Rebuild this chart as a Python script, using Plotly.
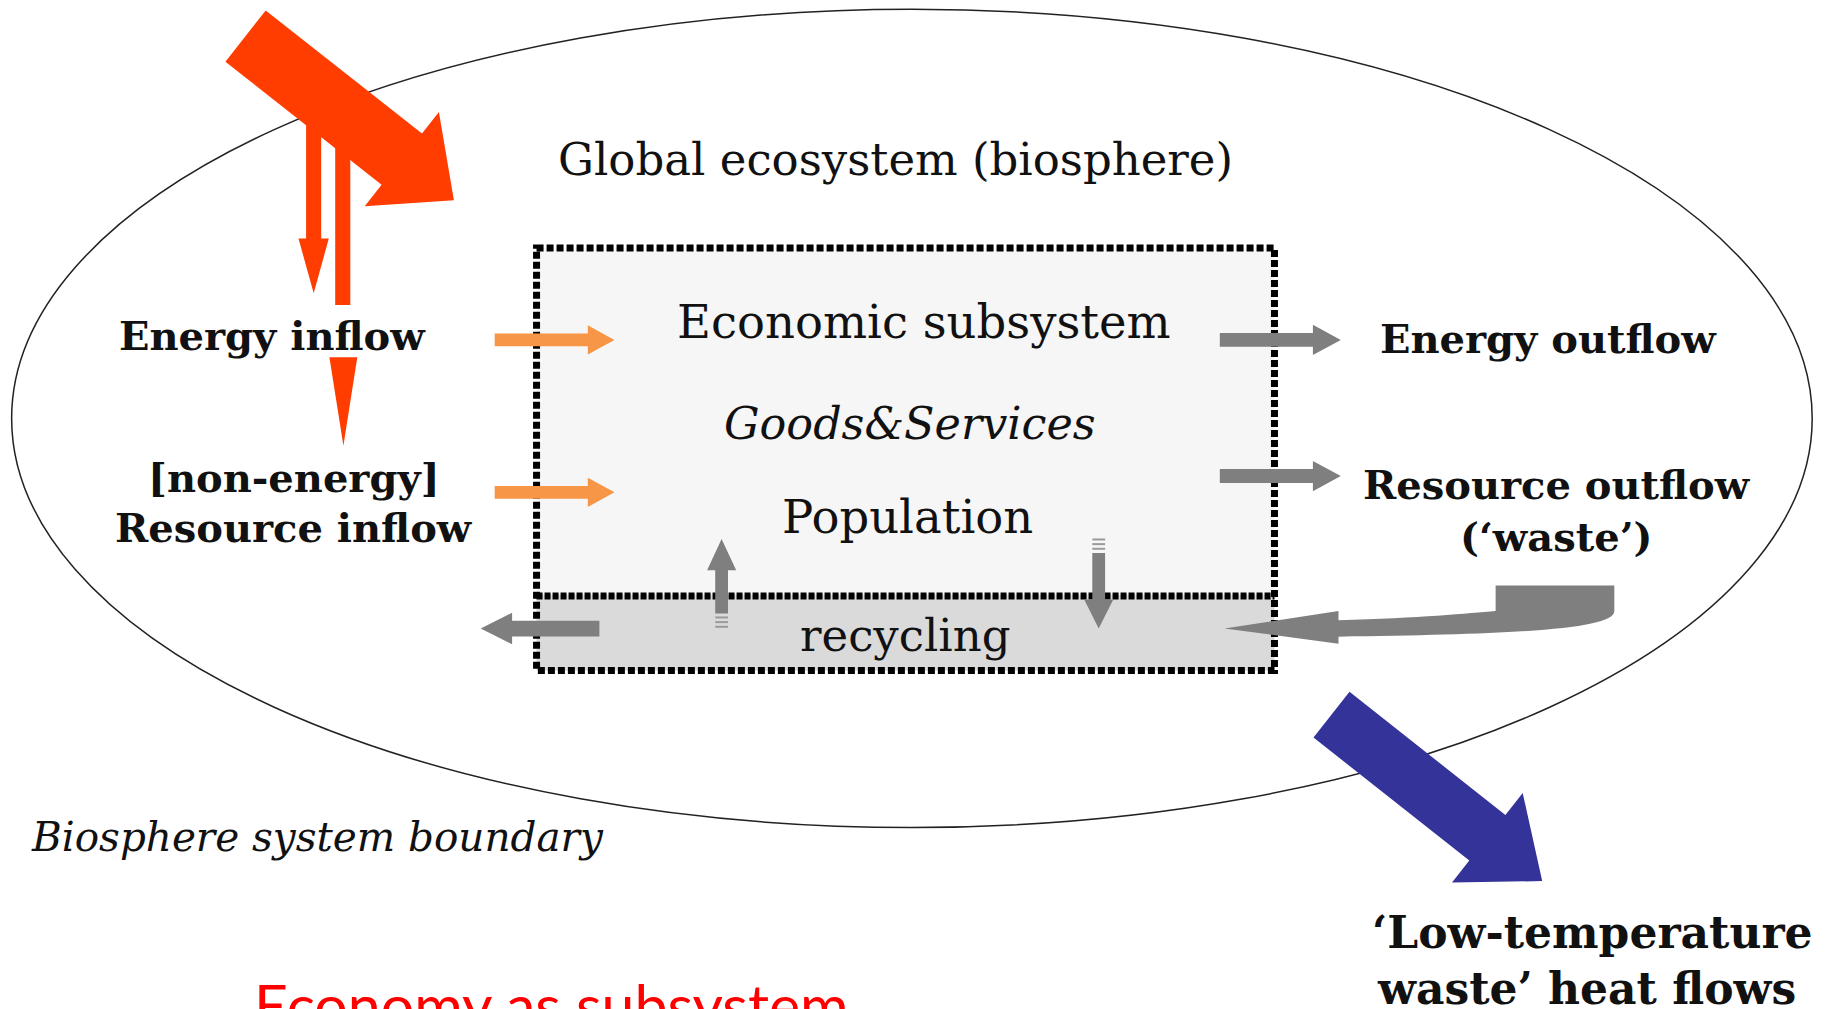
import math
import plotly.graph_objects as go

W, H = 1825, 1009
K = W / 1568.0   # geometry below was measured on a 1568-wide copy of the reference
OFF = 8          # default page margin of the html body

# ---------------- diagram content (text) ----------------
boundary_labels = ["Global ecosystem (biosphere)", "Biosphere system boundary"]
subsystem_labels = ["Economic subsystem", "Goods&Services", "Population", "recycling"]
inflow_labels = ["Energy inflow", "[non-energy]", "Resource inflow"]
outflow_labels = ["Energy outflow", "Resource outflow", "(\u2018waste\u2019)"]
heat_labels = ["\u2018Low-temperature", "waste\u2019 heat flows"]
caption_labels = ["Economy as subsystem"]

# ---------------- styles ----------------
RED = "#FF3D00"
BLUE = "#343399"
ORANGE = "#F79646"
GRAY = "#7F7F7F"
INK = "#111111"
SERIF = "DejaVu Serif"


def s(v):
    return v * K


def poly_path(points):
    return "M " + " L ".join(f"{s(x):.1f},{s(y):.1f}" for x, y in points) + " Z"


def arrow_points(tail, tip, shaft_w, head_w, head_len):
    dx, dy = tip[0] - tail[0], tip[1] - tail[1]
    L = math.hypot(dx, dy)
    ux, uy = dx / L, dy / L
    nx, ny = -uy, ux
    neck = (tip[0] - ux * head_len, tip[1] - uy * head_len)
    a, b = shaft_w / 2.0, head_w / 2.0
    return [
        (tail[0] + nx * a, tail[1] + ny * a),
        (neck[0] + nx * a, neck[1] + ny * a),
        (neck[0] + nx * b, neck[1] + ny * b),
        tip,
        (neck[0] - nx * b, neck[1] - ny * b),
        (neck[0] - nx * a, neck[1] - ny * a),
        (tail[0] - nx * a, tail[1] - ny * a),
    ]


shapes = []


def add_path(points, color):
    shapes.append(dict(type="path", xref="x", yref="y", path=poly_path(points),
                       fillcolor=color, line=dict(color=color, width=0)))


# biosphere ellipse
shapes.append(dict(type="circle", xref="x", yref="y", x0=s(10), x1=s(1557), y0=s(8), y1=s(711),
                   fillcolor="white", line=dict(color="#222222", width=1.5)))

# economic subsystem box
BOX_DASH = "7px,3px"
shapes.append(dict(type="rect", xref="x", yref="y", x0=s(461), x1=s(1095), y0=s(213), y1=s(576),
                   fillcolor="#F6F6F6", line=dict(width=0)))
shapes.append(dict(type="rect", xref="x", yref="y", x0=s(461), x1=s(1095), y0=s(511), y1=s(576),
                   fillcolor="#DADADA", line=dict(width=0)))
shapes.append(dict(type="line", xref="x", yref="y", x0=s(461), x1=s(1095), y0=s(512), y1=s(512),
                   line=dict(color="black", width=7, dash="6px,2px")))
shapes.append(dict(type="rect", xref="x", yref="y", x0=s(461), x1=s(1095), y0=s(213), y1=s(576),
                   fillcolor="rgba(0,0,0,0)", line=dict(color="black", width=7, dash=BOX_DASH)))

# big red incoming energy arrow
add_path(arrow_points((211, 31), (390, 172), 56, 103, 57), RED)
# thin red arrows
add_path(arrow_points((269.5, 105), (269.5, 252), 13, 26, 47), RED)
add_path([(288, 122), (301, 122), (301, 262), (288, 262)], RED)
add_path([(283, 307), (307, 307), (295, 383)], RED)

# orange inflow arrows
for yc in (292, 423):
    add_path(arrow_points((425, yc), (528, yc), 11, 25, 23), ORANGE)

# gray outflow arrows
for yc in (292, 409):
    add_path(arrow_points((1048, yc), (1152, yc), 12, 26, 24), GRAY)

# recycling arrows
add_path(arrow_points((515, 540), (413, 540), 13.5, 27, 27), GRAY)
add_path(arrow_points((620, 527), (620, 463), 11, 25, 27), GRAY)
add_path(arrow_points((944, 475), (944, 540), 11, 25, 25), GRAY)
for yy in (530.5, 534.5, 538.5):
    shapes.append(dict(type="line", xref="x", yref="y", x0=s(614.5), x1=s(625.5), y0=s(yy), y1=s(yy),
                       line=dict(color="#9A9A9A", width=2)))
for yy in (463.5, 467.5, 471.5):
    shapes.append(dict(type="line", xref="x", yref="y", x0=s(938.5), x1=s(949.5), y0=s(yy), y1=s(yy),
                       line=dict(color="#9A9A9A", width=2)))

# curved waste return arrow
curve = ("M {a},{b} L {c},{b} L {c},{d} C {c},{e} {f},{g} {h},{i} L {h},{j} L {k},{l} "
         "L {h},{m} L {h},{n} C {o},{p} {q},{r} {a},{d} Z").format(
    a=s(1285), b=s(503), c=s(1387), d=s(525), e=s(541), f=s(1300), g=s(545),
    h=s(1150), i=s(547), j=s(553), k=s(1052), l=s(540), m=s(525), n=s(533),
    o=s(1220), p=s(531), q=s(1262), r=s(527))
shapes.append(dict(type="path", xref="x", yref="y", path=curve, fillcolor=GRAY, line=dict(width=0)))

# blue waste heat arrow
add_path(arrow_points((1144, 614), (1325, 757), 50, 98, 60), BLUE)

# ---------------- text ----------------
ann = []


def label(text, x, y, size, bold=False, italic=False, xanchor="center", family=SERIF, color=INK,
          yanchor="middle"):
    t = text
    if italic:
        t = "<i>" + t + "</i>"
    if bold:
        t = "<b>" + t + "</b>"
    ann.append(dict(text=t, x=s(x), y=s(y), xref="x", yref="y", showarrow=False,
                    xanchor=xanchor, yanchor=yanchor,
                    font=dict(family=family, size=size, color=color)))


label(boundary_labels[0], 769, 137, 45)
label(boundary_labels[1], 25, 719, 40.5, italic=True, xanchor="left")

label(subsystem_labels[0], 793.5, 277, 46.5)
label(subsystem_labels[1], 782, 364, 44.5, italic=True)
label(subsystem_labels[2], 779.5, 444, 46.5)
label(subsystem_labels[3], 778, 546, 45)

label(inflow_labels[0], 234.5, 288, 40, bold=True)
label(inflow_labels[1], 252.5, 410, 40, bold=True)
label(inflow_labels[2], 252.5, 453, 40, bold=True)

label(outflow_labels[0], 1330.5, 291, 40, bold=True)
label(outflow_labels[1], 1337.5, 416, 40, bold=True)
label(outflow_labels[2], 1337.5, 461, 40, bold=True)

label(heat_labels[0], 1368.5, 801, 44, bold=True)
label(heat_labels[1], 1363.5, 849, 44, bold=True)

label(caption_labels[0], 473.5, 831, 59, family="Lato", color="#FF0000", yanchor="top")

fig = go.Figure()
fig.add_trace(go.Scatter(x=[OFF, W], y=[OFF, H], mode="markers", marker=dict(opacity=0),
                         hoverinfo="skip", showlegend=False))
fig.update_layout(
    width=W - OFF, height=H - OFF, margin=dict(l=0, r=0, t=0, b=0, pad=0),
    paper_bgcolor="white", plot_bgcolor="white", showlegend=False,
    xaxis=dict(range=[OFF, W], visible=False, fixedrange=True),
    yaxis=dict(range=[H, OFF], visible=False, fixedrange=True),
    shapes=shapes, annotations=ann,
)
fig.write_html("out.html")
